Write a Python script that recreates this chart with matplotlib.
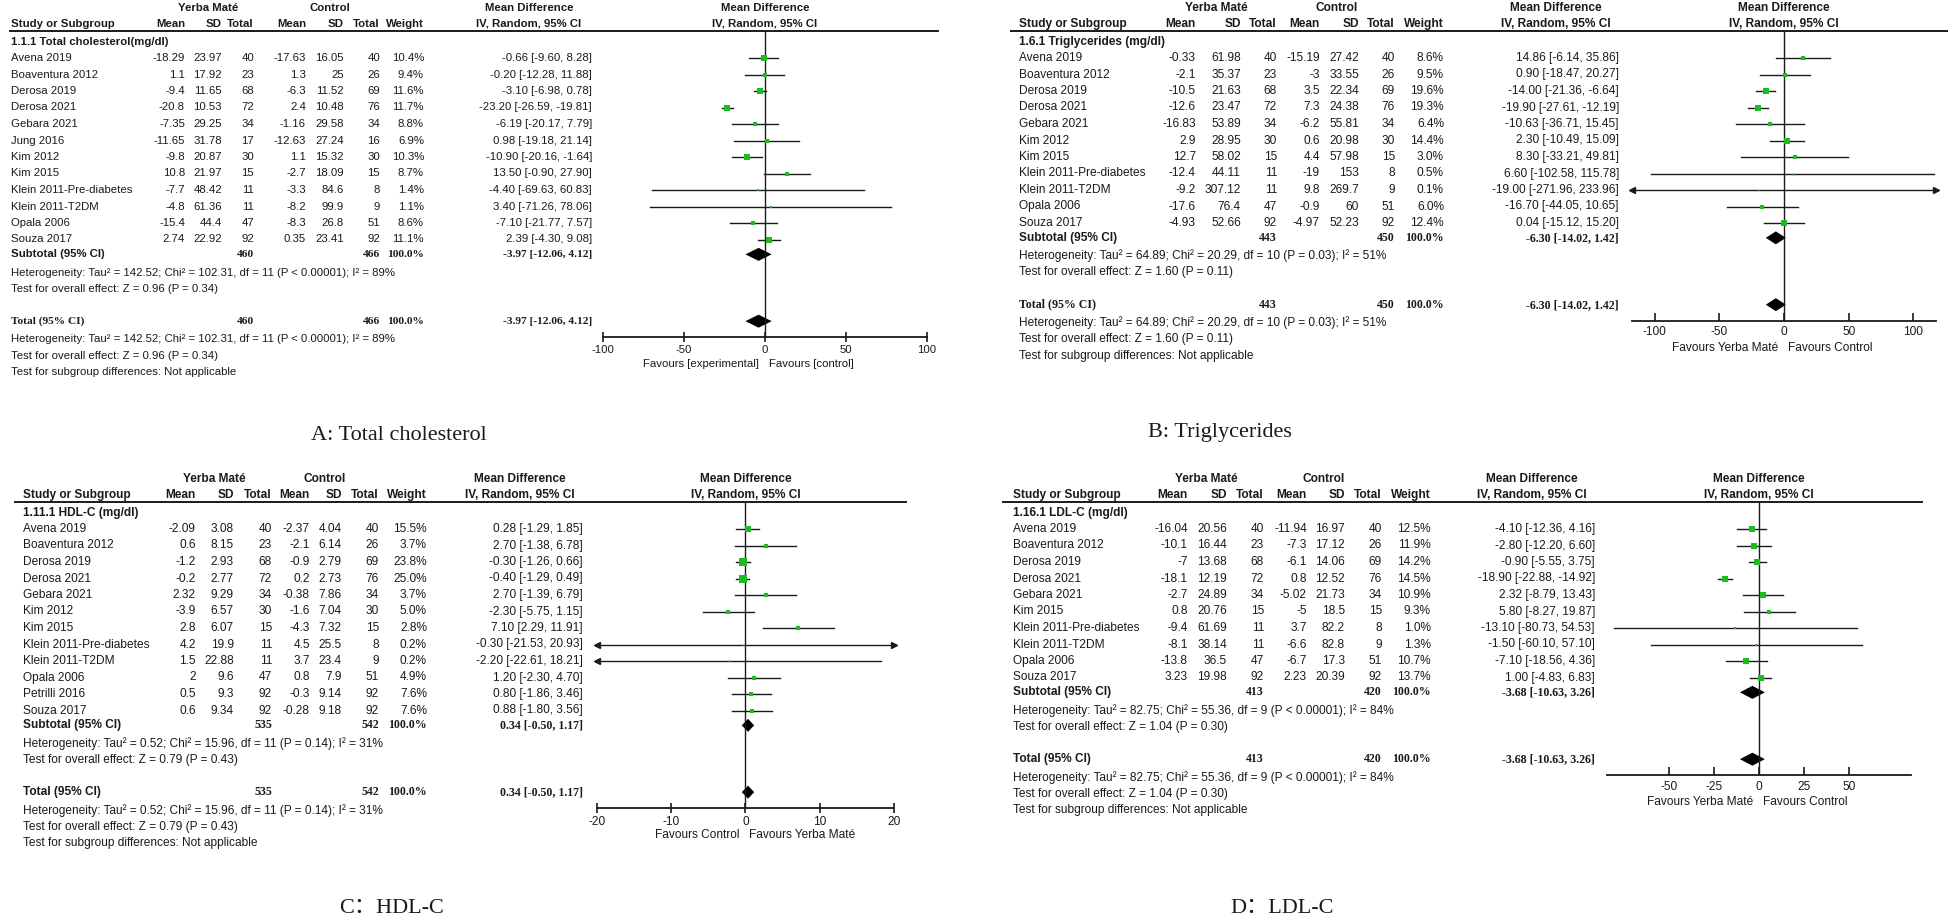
import matplotlib
matplotlib.use("Agg")
import matplotlib.pyplot as plt

W, H, DPI = 1949, 917, 100
SANS = "Liberation Sans"
SERIF = "Liberation Serif"
INK = "#1a1a1a"
GREEN = "#1dbb1d"

# ---------------- A: total cholesterol ----------------
tc_studies = ["Avena 2019", "Boaventura 2012", "Derosa 2019", "Derosa 2021", "Gebara 2021", "Jung 2016",
              "Kim 2012", "Kim 2015", "Klein 2011-Pre-diabetes", "Klein 2011-T2DM", "Opala 2006", "Souza 2017"]
tc_ym_mean = [-18.29, 1.1, -9.4, -20.8, -7.35, -11.65, -9.8, 10.8, -7.7, -4.8, -15.4, 2.74]
tc_ym_sd = [23.97, 17.92, 11.65, 10.53, 29.25, 31.78, 20.87, 21.97, 48.42, 61.36, 44.4, 22.92]
tc_ym_n = [40, 23, 68, 72, 34, 17, 30, 15, 11, 11, 47, 92]
tc_ct_mean = [-17.63, 1.3, -6.3, 2.4, -1.16, -12.63, 1.1, -2.7, -3.3, -8.2, -8.3, 0.35]
tc_ct_sd = [16.05, 25, 11.52, 10.48, 29.58, 27.24, 15.32, 18.09, 84.6, 99.9, 26.8, 23.41]
tc_ct_n = [40, 26, 69, 76, 34, 16, 30, 15, 8, 9, 51, 92]
tc_weight = [10.4, 9.4, 11.6, 11.7, 8.8, 6.9, 10.3, 8.7, 1.4, 1.1, 8.6, 11.1]
tc_md = [-0.66, -0.20, -3.10, -23.20, -6.19, 0.98, -10.90, 13.50, -4.40, 3.40, -7.10, 2.39]
tc_lo = [-9.60, -12.28, -6.98, -26.59, -20.17, -19.18, -20.16, -0.90, -69.63, -71.26, -21.77, -4.30]
tc_hi = [8.28, 11.88, 0.78, -19.81, 7.79, 21.14, -1.64, 27.90, 60.83, 78.06, 7.57, 9.08]
tc_pooled = [-3.97, -12.06, 4.12]
tc_totals = [460, 466]
tc_het = [142.52, 102.31, 11, "< 0.00001", 89]
tc_effect = [0.96, 0.34]

# ---------------- B: triglycerides ----------------
tg_studies = ["Avena 2019", "Boaventura 2012", "Derosa 2019", "Derosa 2021", "Gebara 2021", "Kim 2012",
              "Kim 2015", "Klein 2011-Pre-diabetes", "Klein 2011-T2DM", "Opala 2006", "Souza 2017"]
tg_ym_mean = [-0.33, -2.1, -10.5, -12.6, -16.83, 2.9, 12.7, -12.4, -9.2, -17.6, -4.93]
tg_ym_sd = [61.98, 35.37, 21.63, 23.47, 53.89, 28.95, 58.02, 44.11, 307.12, 76.4, 52.66]
tg_ym_n = [40, 23, 68, 72, 34, 30, 15, 11, 11, 47, 92]
tg_ct_mean = [-15.19, -3, 3.5, 7.3, -6.2, 0.6, 4.4, -19, 9.8, -0.9, -4.97]
tg_ct_sd = [27.42, 33.55, 22.34, 24.38, 55.81, 20.98, 57.98, 153, 269.7, 60, 52.23]
tg_ct_n = [40, 26, 69, 76, 34, 30, 15, 8, 9, 51, 92]
tg_weight = [8.6, 9.5, 19.6, 19.3, 6.4, 14.4, 3.0, 0.5, 0.1, 6.0, 12.4]
tg_md = [14.86, 0.90, -14.00, -19.90, -10.63, 2.30, 8.30, 6.60, -19.00, -16.70, 0.04]
tg_lo = [-6.14, -18.47, -21.36, -27.61, -36.71, -10.49, -33.21, -102.58, -271.96, -44.05, -15.12]
tg_hi = [35.86, 20.27, -6.64, -12.19, 15.45, 15.09, 49.81, 115.78, 233.96, 10.65, 15.20]
tg_pooled = [-6.30, -14.02, 1.42]
tg_totals = [443, 450]
tg_het = [64.89, 20.29, 10, "= 0.03", 51]
tg_effect = [1.60, 0.11]

# ---------------- C: HDL-C ----------------
hdl_studies = ["Avena 2019", "Boaventura 2012", "Derosa 2019", "Derosa 2021", "Gebara 2021", "Kim 2012",
               "Kim 2015", "Klein 2011-Pre-diabetes", "Klein 2011-T2DM", "Opala 2006", "Petrilli 2016", "Souza 2017"]
hdl_ym_mean = [-2.09, 0.6, -1.2, -0.2, 2.32, -3.9, 2.8, 4.2, 1.5, 2, 0.5, 0.6]
hdl_ym_sd = [3.08, 8.15, 2.93, 2.77, 9.29, 6.57, 6.07, 19.9, 22.88, 9.6, 9.3, 9.34]
hdl_ym_n = [40, 23, 68, 72, 34, 30, 15, 11, 11, 47, 92, 92]
hdl_ct_mean = [-2.37, -2.1, -0.9, 0.2, -0.38, -1.6, -4.3, 4.5, 3.7, 0.8, -0.3, -0.28]
hdl_ct_sd = [4.04, 6.14, 2.79, 2.73, 7.86, 7.04, 7.32, 25.5, 23.4, 7.9, 9.14, 9.18]
hdl_ct_n = [40, 26, 69, 76, 34, 30, 15, 8, 9, 51, 92, 92]
hdl_weight = [15.5, 3.7, 23.8, 25.0, 3.7, 5.0, 2.8, 0.2, 0.2, 4.9, 7.6, 7.6]
hdl_md = [0.28, 2.70, -0.30, -0.40, 2.70, -2.30, 7.10, -0.30, -2.20, 1.20, 0.80, 0.88]
hdl_lo = [-1.29, -1.38, -1.26, -1.29, -1.39, -5.75, 2.29, -21.53, -22.61, -2.30, -1.86, -1.80]
hdl_hi = [1.85, 6.78, 0.66, 0.49, 6.79, 1.15, 11.91, 20.93, 18.21, 4.70, 3.46, 3.56]
hdl_pooled = [0.34, -0.50, 1.17]
hdl_totals = [535, 542]
hdl_het = [0.52, 15.96, 11, "= 0.14", 31]
hdl_effect = [0.79, 0.43]

# ---------------- D: LDL-C ----------------
ldl_studies = ["Avena 2019", "Boaventura 2012", "Derosa 2019", "Derosa 2021", "Gebara 2021", "Kim 2015",
               "Klein 2011-Pre-diabetes", "Klein 2011-T2DM", "Opala 2006", "Souza 2017"]
ldl_ym_mean = [-16.04, -10.1, -7, -18.1, -2.7, 0.8, -9.4, -8.1, -13.8, 3.23]
ldl_ym_sd = [20.56, 16.44, 13.68, 12.19, 24.89, 20.76, 61.69, 38.14, 36.5, 19.98]
ldl_ym_n = [40, 23, 68, 72, 34, 15, 11, 11, 47, 92]
ldl_ct_mean = [-11.94, -7.3, -6.1, 0.8, -5.02, -5, 3.7, -6.6, -6.7, 2.23]
ldl_ct_sd = [16.97, 17.12, 14.06, 12.52, 21.73, 18.5, 82.2, 82.8, 17.3, 20.39]
ldl_ct_n = [40, 26, 69, 76, 34, 15, 8, 9, 51, 92]
ldl_weight = [12.5, 11.9, 14.2, 14.5, 10.9, 9.3, 1.0, 1.3, 10.7, 13.7]
ldl_md = [-4.10, -2.80, -0.90, -18.90, 2.32, 5.80, -13.10, -1.50, -7.10, 1.00]
ldl_lo = [-12.36, -12.20, -5.55, -22.88, -8.79, -8.27, -80.73, -60.10, -18.56, -4.83]
ldl_hi = [4.16, 6.60, 3.75, -14.92, 13.43, 19.87, 54.53, 57.10, 4.36, 6.83]
ldl_pooled = [-3.68, -10.63, 3.26]
ldl_totals = [413, 420]
ldl_het = [82.75, 55.36, 9, "< 0.00001", 84]
ldl_effect = [1.04, 0.30]


def num(v):
    return f"{v:g}"


def draw_panel(fig, bg, d, lay):
    fs = lay["fs"]
    hy = lay["hy"]
    r = 16.5
    x0 = lay["x0"]
    cols = lay["cols"]
    mdr = lay["mdr"]
    n = len(d["studies"])
    rows_y = [hy + 27 + i * r for i in range(n)]
    y_sub = rows_y[-1] + 0.9 * r
    y_het = y_sub + 1.1 * r
    y_test = y_het + r
    y_tot = y_test + 1.95 * r
    y_het2 = y_tot + 1.1 * r
    y_test2 = y_het2 + r
    y_sg = y_test2 + r
    ay = y_tot + 16

    def t(x, y, s, ha="left", bold=False, fam=SANS, size=None):
        bg.text(x, y, s, ha=ha, va="center", fontsize=size or fs, color=INK,
                fontweight="bold" if bold else "normal", family=fam)

    # header
    t(lay["ym_c"], hy - 23, "Yerba Maté", "center", True)
    t(lay["ct_c"], hy - 23, "Control", "center", True)
    t(mdr - 63, hy - 23, "Mean Difference", "center", True)
    t(mdr - 63, hy - 7, "IV, Random, 95% CI", "center", True)
    t(x0, hy - 7, "Study or Subgroup", "left", True)
    for c, s in zip(cols, ["Mean", "SD", "Total", "Mean", "SD", "Total", "Weight"]):
        t(c, hy - 7, s, "right", True)
    bg.plot([lay["lx0"], lay["lx1"]], [hy, hy], color=INK, lw=1.4)
    t(x0, hy + 11, d["label"], "left", True)

    # study rows
    for i, y in enumerate(rows_y):
        t(x0, y, d["studies"][i])
        vals = [num(d["ym_mean"][i]), num(d["ym_sd"][i]), str(d["ym_n"][i]),
                num(d["ct_mean"][i]), num(d["ct_sd"][i]), str(d["ct_n"][i]),
                f"{d['weight'][i]:.1f}%"]
        for c, s in zip(cols, vals):
            t(c, y, s, "right")
        t(mdr, y, f"{d['md'][i]:.2f} [{d['lo'][i]:.2f}, {d['hi'][i]:.2f}]", "right")

    pm, plo, phi = d["pooled"]
    pooled_s = f"{pm:.2f} [{plo:.2f}, {phi:.2f}]"
    tau2, chi2, df, p_het, i2 = d["het"]
    het_s = f"Heterogeneity: Tau² = {tau2:.2f}; Chi² = {chi2:.2f}, df = {df} (P {p_het}); I² = {i2}%"
    z, pz = d["effect"]
    eff_s = f"Test for overall effect: Z = {z:.2f} (P = {pz:.2f})"

    for y, lab, lab_fam in [(y_sub, "Subtotal (95% CI)", SANS), (y_tot, "Total (95% CI)", lay["tot_fam"])]:
        t(x0, y, lab, "left", True, lab_fam)
        t(cols[2], y, str(d["totals"][0]), "right", True, SERIF)
        t(cols[5], y, str(d["totals"][1]), "right", True, SERIF)
        t(cols[6], y, "100.0%", "right", True, SERIF)
        t(mdr, y, pooled_s, "right", True, SERIF)
    t(x0, y_het, het_s)
    t(x0, y_test, eff_s)
    t(x0, y_het2, het_s)
    t(x0, y_test2, eff_s)
    t(x0, y_sg, "Test for subgroup differences: Not applicable")

    # forest plot axes (y in pixel units, x in mean-difference units)
    px0, px1 = lay["px"]
    ax = fig.add_axes([px0 / W, 1 - ay / H, (px1 - px0) / W, (ay - hy) / H])
    ax.patch.set_alpha(0)
    xmin, xmax = lay["xlim"]
    ax.set_xlim(xmin, xmax)
    ax.set_ylim(ay, hy)
    for s in ["top", "left", "right"]:
        ax.spines[s].set_visible(False)
    ax.spines["bottom"].set_linewidth(1.3)
    ax.spines["bottom"].set_color(INK)
    ax.set_yticks([])
    ax.set_xticks(lay["ticks"])
    ax.set_xticklabels([num(v) for v in lay["ticks"]], family=SANS)
    ax.tick_params(axis="x", direction=lay["tickdir"], length=lay["ticklen"], width=1.2,
                   color=INK, labelsize=fs, labelcolor=INK, pad=lay["pad"])
    ax.axvline(0, color=INK, lw=1.0)

    ax.text(0, hy - 23, "Mean Difference", ha="center", va="center", fontsize=fs,
            fontweight="bold", family=SANS, color=INK, clip_on=False)
    ax.text(0, hy - 7, "IV, Random, 95% CI", ha="center", va="center", fontsize=fs,
            fontweight="bold", family=SANS, color=INK, clip_on=False)

    for i, y in enumerate(rows_y):
        lo = max(d["lo"][i], xmin)
        hi = min(d["hi"][i], xmax)
        ax.plot([lo, hi], [y, y], color=INK, lw=1.0)
        if d["lo"][i] < xmin:
            ax.plot(xmin, y, marker="<", ms=5, color=INK, clip_on=False)
        if d["hi"][i] > xmax:
            ax.plot(xmax, y, marker=">", ms=5, color=INK, clip_on=False)
        side = 1.0 + 1.25 * d["weight"][i] ** 0.5
        ax.plot(d["md"][i], y, marker="s", ms=side * 0.72, color=GREEN, mec=GREEN, mew=0)

    for y in [y_sub, y_tot]:
        ax.fill([plo, pm, phi, pm], [y, y - 6.5, y, y + 6.5], color="black", lw=0)

    left_fav, right_fav = lay["favours"]
    ax.annotate(left_fav, xy=(0, ay), xycoords="data", xytext=(-6, -27), textcoords="offset pixels",
                ha="right", va="center", fontsize=fs, family=SANS, color=INK)
    ax.annotate(right_fav, xy=(0, ay), xycoords="data", xytext=(4, -27), textcoords="offset pixels",
                ha="left", va="center", fontsize=fs, family=SANS, color=INK)

    cap, cx, cy = lay["caption"]
    bg.text(cx, cy, cap, ha="center", va="center", fontsize=16, color=INK,
            family=[SERIF, "Noto Sans CJK SC"])


panels = [
    (dict(label="1.1.1 Total cholesterol(mg/dl)", studies=tc_studies, ym_mean=tc_ym_mean, ym_sd=tc_ym_sd,
          ym_n=tc_ym_n, ct_mean=tc_ct_mean, ct_sd=tc_ct_sd, ct_n=tc_ct_n, weight=tc_weight, md=tc_md,
          lo=tc_lo, hi=tc_hi, pooled=tc_pooled, totals=tc_totals, het=tc_het, effect=tc_effect),
     dict(fs=8.2, hy=31, x0=11, lx0=10, lx1=938, cols=[185, 222, 254, 306, 344, 380, 424], mdr=592,
          ym_c=208, ct_c=330, px=(603, 927), xlim=(-100, 100), ticks=[-100, -50, 0, 50, 100],
          tickdir="inout", ticklen=7, pad=2, tot_fam=SERIF,
          favours=("Favours [experimental]", "Favours [control]"),
          caption=("A: Total cholesterol", 399, 435))),
    (dict(label="1.6.1 Triglycerides (mg/dl)", studies=tg_studies, ym_mean=tg_ym_mean, ym_sd=tg_ym_sd,
          ym_n=tg_ym_n, ct_mean=tg_ct_mean, ct_sd=tg_ct_sd, ct_n=tg_ct_n, weight=tg_weight, md=tg_md,
          lo=tg_lo, hi=tg_hi, pooled=tg_pooled, totals=tg_totals, het=tg_het, effect=tg_effect),
     dict(fs=8.6, hy=31, x0=1019, lx0=1011, lx1=1948, cols=[1196, 1241, 1277, 1320, 1359, 1395, 1444],
          mdr=1619, ym_c=1216, ct_c=1337, px=(1632, 1936), xlim=(-117.4, 117.4),
          ticks=[-100, -50, 0, 50, 100], tickdir="in", ticklen=6, pad=4, tot_fam=SERIF,
          favours=("Favours Yerba Maté", "Favours Control"),
          caption=("B: Triglycerides", 1220, 432))),
    (dict(label="1.11.1 HDL-C (mg/dl)", studies=hdl_studies, ym_mean=hdl_ym_mean, ym_sd=hdl_ym_sd,
          ym_n=hdl_ym_n, ct_mean=hdl_ct_mean, ct_sd=hdl_ct_sd, ct_n=hdl_ct_n, weight=hdl_weight, md=hdl_md,
          lo=hdl_lo, hi=hdl_hi, pooled=hdl_pooled, totals=hdl_totals, het=hdl_het, effect=hdl_effect),
     dict(fs=8.6, hy=502, x0=23, lx0=15, lx1=906, cols=[196, 234, 272, 310, 342, 379, 427], mdr=583,
          ym_c=214, ct_c=325, px=(597, 894), xlim=(-20, 20), ticks=[-20, -10, 0, 10, 20],
          tickdir="inout", ticklen=7, pad=2, tot_fam=SANS,
          favours=("Favours Control", "Favours Yerba Maté"),
          caption=("C：HDL-C", 392, 908))),
    (dict(label="1.16.1 LDL-C (mg/dl)", studies=ldl_studies, ym_mean=ldl_ym_mean, ym_sd=ldl_ym_sd,
          ym_n=ldl_ym_n, ct_mean=ldl_ct_mean, ct_sd=ldl_ct_sd, ct_n=ldl_ct_n, weight=ldl_weight, md=ldl_md,
          lo=ldl_lo, hi=ldl_hi, pooled=ldl_pooled, totals=ldl_totals, het=ldl_het, effect=ldl_effect),
     dict(fs=8.6, hy=502, x0=1013, lx0=1003, lx1=1922, cols=[1188, 1227, 1264, 1307, 1345, 1382, 1431],
          mdr=1595, ym_c=1206, ct_c=1324, px=(1607, 1911), xlim=(-84.5, 84.5),
          ticks=[-50, -25, 0, 25, 50], tickdir="in", ticklen=6, pad=4, tot_fam=SANS,
          favours=("Favours Yerba Maté", "Favours Control"),
          caption=("D：LDL-C", 1282, 908))),
]

fig = plt.figure(figsize=(W / DPI, H / DPI), dpi=DPI)
fig.patch.set_facecolor("white")
bg = fig.add_axes([0, 0, 1, 1])
bg.set_xlim(0, W)
bg.set_ylim(H, 0)
bg.axis("off")

for d, lay in panels:
    draw_panel(fig, bg, d, lay)

fig.savefig("out.png", dpi=DPI, facecolor="white")
